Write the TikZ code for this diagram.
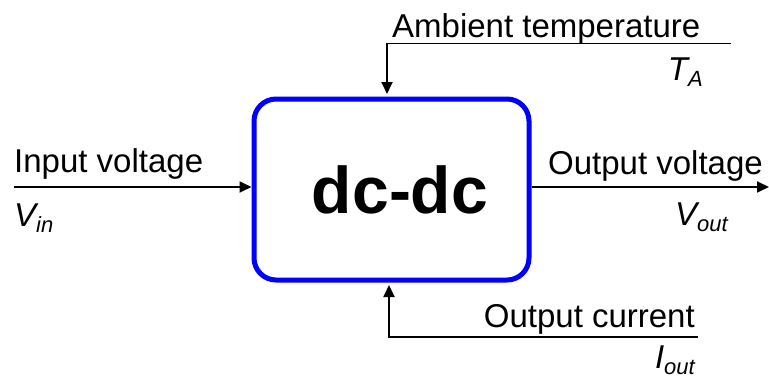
\documentclass[tikz,border=0pt]{standalone}
\usepackage{fontspec}
\setmainfont{Liberation Sans}
\usetikzlibrary{arrows.meta}
\newcommand\lbsub[1]{\raisebox{-6pt}{\fontsize{22}{24}\selectfont #1}}
\begin{document}
\begin{tikzpicture}[x=1pt,y=-1pt,
  conn/.style={line width=1.8pt,draw=black},
  arr/.style={conn,-{Triangle[length=12pt,width=11pt]}},
  lbl/.style={inner sep=0pt,font=\fontsize{33}{38}\selectfont},
  sym/.style={inner sep=0pt,font=\fontsize{33}{38}\selectfont\itshape},
  blockbox/.style={draw={rgb,255:red,0;green,0;blue,255},line width=5pt,rounded corners=22pt,
    minimum width=275pt,minimum height=181pt,inner sep=0pt}]
\useasboundingbox (0,0) rectangle (769,380);
\node[blockbox] (dcdc) at (391.5,189.5) {};
\node[inner sep=0pt,anchor=base,font=\fontsize{66}{70}\bfseries] (title) at (400,213) {dc-dc};
% input
\coordinate (inS) at (14,187);
\coordinate (inE) at (251.5,187);
\draw[arr] (inS) -- (inE);
\node[lbl,anchor=base west] (inL) at (14,172) {Input voltage};
\node[sym,anchor=base west] (inV) at (14,226) {V\lbsub{in}};
% output
\coordinate (outS) at (531.5,187);
\coordinate (outE) at (769,187);
\draw[arr] (outS) -- (outE);
\node[lbl,anchor=base east] (outL) at (763,174) {Output voltage};
\node[sym,anchor=base east] (outV) at (728,225) {V\lbsub{out}};
% ambient
\coordinate (taR) at (731,43.5);
\coordinate (taC) at (387,43.5);
\draw[arr,shorten >=2.5pt] (taR) -- (taC) -- (taC |- dcdc.north);
\node[lbl,anchor=base west] (taL) at (392,37) {Ambient temperature};
\node[sym,anchor=base east] (taT) at (703,80) {T\lbsub{A}};
% output current
\coordinate (ioR) at (698,336.7);
\coordinate (ioC) at (389,336.7);
\draw[arr,shorten >=2.5pt] (ioR) -- (ioC) -- (ioC |- dcdc.south);
\node[lbl,anchor=base east] (ioL) at (695,327) {Output current};
\node[sym,anchor=base east] (ioI) at (695,368) {I\lbsub{out}};
\end{tikzpicture}
\end{document}
